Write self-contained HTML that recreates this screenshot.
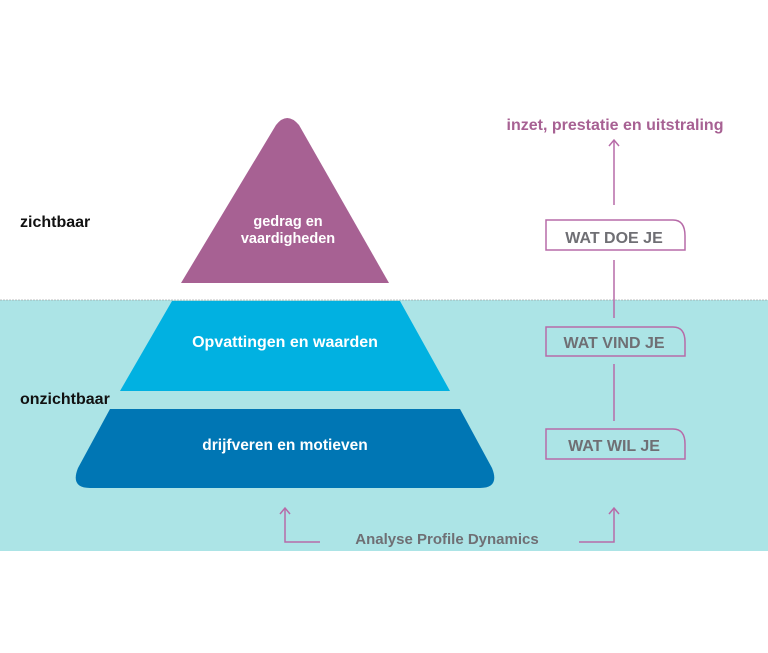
<!DOCTYPE html>
<html><head><style>
html,body{margin:0;padding:0;background:#fff;width:768px;height:653px;overflow:hidden;font-family:"Liberation Sans",sans-serif;}
</style></head><body>
<svg width="768" height="653" viewBox="0 0 768 653" xmlns="http://www.w3.org/2000/svg" font-family="Liberation Sans, sans-serif" font-weight="bold">
<rect x="0" y="300" width="768" height="251" fill="#ace4e6"/>
<line x1="0" y1="300" x2="768" y2="300" stroke="#999" stroke-width="1" stroke-dasharray="2,1" opacity="0.6"/>
<path d="M181,283 L276,125 Q287,111 299,125 L389,283 Z" fill="#a76193"/>
<path d="M172,301 L400,301 L450,391 L120,391 Z" fill="#01b1e1"/>
<path d="M110,409 L460,409 L492,468 Q500,488 480,488 L90,488 Q70,488 78,468 Z" fill="#0076b4"/>
<g fill="#fff" font-size="14.5" text-anchor="middle">
<text x="288" y="226">gedrag en</text>
<text x="288" y="243">vaardigheden</text>
<text x="285" y="347" font-size="16">Opvattingen en waarden</text>
<text x="285" y="450" font-size="15.5">drijfveren en motieven</text>
</g>
<text x="20" y="227" font-size="16" fill="#111">zichtbaar</text>
<text x="20" y="404" font-size="16" fill="#111">onzichtbaar</text>
<text x="615" y="130" font-size="16" fill="#a76193" text-anchor="middle">inzet, prestatie en uitstraling</text>
<g stroke="#b76ba8" stroke-width="1.5" fill="none">
<line x1="614" y1="140" x2="614" y2="205"/>
<polyline points="609,146 614,140 619,146"/>
<line x1="614" y1="260" x2="614" y2="318"/>
<line x1="614" y1="364" x2="614" y2="421"/>
<path d="M546,220 L673,220 Q685,220 685,236 L685,250 L546,250 Z"/>
<path d="M546,327 L673,327 Q685,327 685,342 L685,356 L546,356 Z"/>
<path d="M546,429 L673,429 Q685,429 685,444 L685,459 L546,459 Z"/>
<polyline points="285,508 285,542 320,542"/>
<polyline points="280,514 285,508 290,514"/>
<polyline points="579,542 614,542 614,508"/>
<polyline points="609,514 614,508 619,514"/>
</g>
<g fill="#6f6f74" font-size="16" text-anchor="middle">
<text x="614" y="243">WAT DOE JE</text>
<text x="614" y="348">WAT VIND JE</text>
<text x="614" y="451">WAT WIL JE</text>
<text x="447" y="544" font-size="15">Analyse Profile Dynamics</text>
</g>
</svg>
</body></html>
